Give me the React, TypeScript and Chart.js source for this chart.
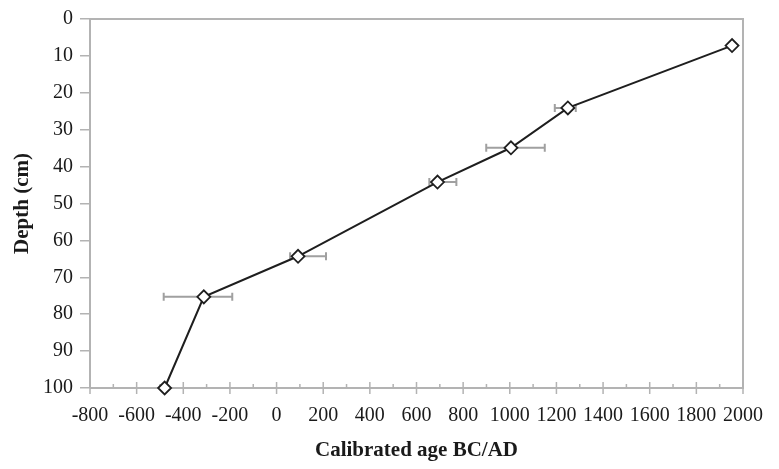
import React, { useEffect, useRef } from "react";
import { Chart, registerables } from "chart.js";

Chart.register(...registerables);

// Calibrated ages (BC/AD) and depths (cm)
const ages = [-480, -312, 92, 690, 1005, 1249, 1953];
const depths = [100, 75.3, 64.3, 44.2, 34.9, 24.1, 7.2];
// error bar ranges (calibrated age)
const errLow = [null, -484, 58, 655, 899, 1193, null];
const errHigh = [null, -190, 212, 771, 1150, 1283, null];

const xTicks = { min: -800, max: 2000, step: 200, minor: 100 };
const yTicks = { min: 0, max: 100, step: 10 };

const AXIS_COLOR = "#b3b3b3";
const ERR_COLOR = "#a0a0a0";

const framePlugin = {
  id: "frame",
  beforeDatasetsDraw(chart: any) {
    const { ctx, chartArea, scales } = chart;
    const xs = scales.x;
    const ys = scales.y;
    ctx.save();
    // error bars
    ctx.strokeStyle = ERR_COLOR;
    ctx.lineWidth = 2;
    for (let i = 0; i < ages.length; i++) {
      const lo = errLow[i];
      const hi = errHigh[i];
      if (lo === null || hi === null) continue;
      const y = ys.getPixelForValue(depths[i]);
      const x1 = xs.getPixelForValue(lo);
      const x2 = xs.getPixelForValue(hi);
      ctx.beginPath();
      ctx.moveTo(x1, y);
      ctx.lineTo(x2, y);
      ctx.moveTo(x1, y - 4);
      ctx.lineTo(x1, y + 4);
      ctx.moveTo(x2, y - 4);
      ctx.lineTo(x2, y + 4);
      ctx.stroke();
    }
    // frame: top, right, bottom
    ctx.strokeStyle = AXIS_COLOR;
    ctx.lineWidth = 2;
    ctx.beginPath();
    ctx.moveTo(chartArea.left, chartArea.top);
    ctx.lineTo(chartArea.right, chartArea.top);
    ctx.lineTo(chartArea.right, chartArea.bottom);
    ctx.lineTo(chartArea.left, chartArea.bottom);
    ctx.stroke();
    // x axis ticks
    const b = chartArea.bottom;
    ctx.lineWidth = 1.5;
    ctx.beginPath();
    for (let v = xTicks.min; v <= xTicks.max; v += xTicks.minor) {
      const x = xs.getPixelForValue(v);
      const major = (v - xTicks.min) % xTicks.step === 0;
      if (major) {
        ctx.moveTo(x, b - 6);
        ctx.lineTo(x, b + 6);
      } else {
        ctx.moveTo(x, b - 4);
        ctx.lineTo(x, b);
      }
    }
    ctx.stroke();
    ctx.restore();
  },
};

export default function App() {
  const ref = useRef<HTMLCanvasElement | null>(null);
  useEffect(() => {
    if (!ref.current) return;
    const chart = new Chart(ref.current, {
      type: "line",
      data: {
        datasets: [
          {
            data: ages.map((a, i) => ({ x: a, y: depths[i] })),
            borderColor: "#1e1e1e",
            borderWidth: 2,
            pointStyle: "rectRot",
            pointRadius: 6.5,
            pointBackgroundColor: "#ffffff",
            pointBorderColor: "#1e1e1e",
            pointBorderWidth: 1.8,
            tension: 0,
            clip: false,
          },
        ],
      },
      options: {
        animation: false,
        responsive: false,
        layout: { padding: { left: 0, top: 15, right: 33, bottom: 0 } },
        plugins: { legend: { display: false }, tooltip: { enabled: false } },
        scales: {
          x: {
            type: "linear",
            min: xTicks.min,
            max: xTicks.max,
            afterFit: (s: any) => {
              s.height = 81;
            },
            ticks: {
              stepSize: xTicks.step,
              padding: 16,
              color: "#1a1a1a",
              font: { family: "Liberation Serif", size: 20 },
              maxRotation: 0,
              autoSkip: false,
              callback: (v: any) => String(v),
            },
            grid: { display: false, drawTicks: false },
            border: { display: false },
            title: {
              display: true,
              text: "Calibrated age BC/AD",
              color: "#1a1a1a",
              font: { family: "Liberation Serif", size: 21, weight: "bold" },
              padding: { top: 0, bottom: 6 },
            },
          },
          y: {
            type: "linear",
            reverse: true,
            min: yTicks.min,
            max: yTicks.max,
            afterFit: (s: any) => {
              s.width = 90;
            },
            ticks: {
              stepSize: yTicks.step,
              padding: 7,
              color: "#1a1a1a",
              font: { family: "Liberation Serif", size: 20 },
              callback: (v: any) => String(v),
            },
            grid: {
              display: true,
              drawOnChartArea: false,
              drawTicks: true,
              tickLength: 10,
              color: AXIS_COLOR,
              lineWidth: 1.5,
            },
            border: { display: true, color: AXIS_COLOR, width: 2 },
            title: {
              display: true,
              text: "Depth (cm)",
              color: "#1a1a1a",
              font: { family: "Liberation Serif", size: 21, weight: "bold" },
              padding: { top: 10, bottom: 0 },
            },
          },
        },
      },
      plugins: [framePlugin],
    } as any);
    return () => chart.destroy();
  }, []);
  return (
    <div style={{ position: "fixed", left: 0, top: 0, width: 779, height: 469, background: "#fff" }}>
      <canvas ref={ref} width={779} height={469} />
    </div>
  );
}
